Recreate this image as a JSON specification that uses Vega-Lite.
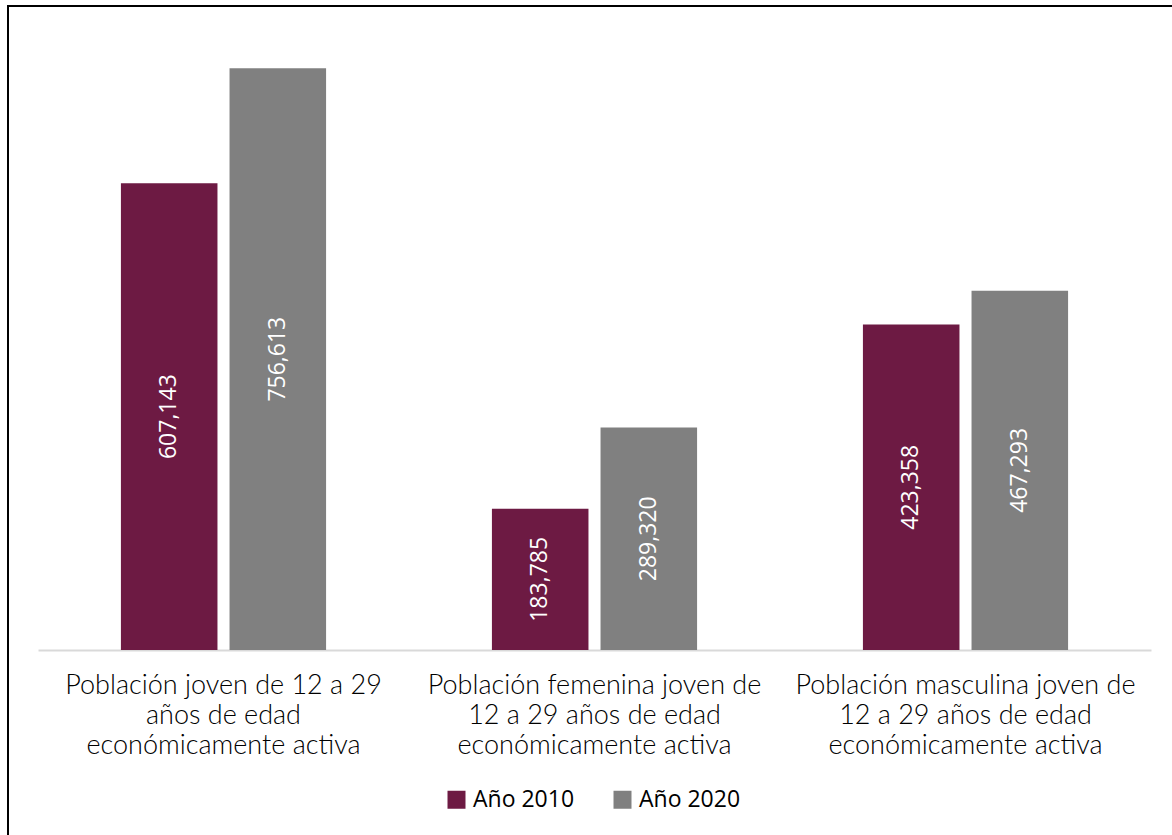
{
  "$schema": "https://vega.github.io/schema/vega-lite/v6.json",
  "autosize": "none",
  "padding": {"left": 8, "top": 6, "right": 0, "bottom": 0},
  "width": 1180,
  "height": 840,
  "background": "white",
  "config": {
    "view": {"stroke": "black", "strokeWidth": 2},
    "font": "Lato"
  },
  "data": {
    "values": [
      {"categoria": "Población joven", "serie": "Año 2010", "valor": 607143},
      {"categoria": "Población joven", "serie": "Año 2020", "valor": 756613},
      {"categoria": "Población femenina", "serie": "Año 2010", "valor": 183785},
      {"categoria": "Población femenina", "serie": "Año 2020", "valor": 289320},
      {"categoria": "Población masculina", "serie": "Año 2010", "valor": 423358},
      {"categoria": "Población masculina", "serie": "Año 2020", "valor": 467293}
    ]
  },
  "transform": [{"calculate": "datum.valor / 2", "as": "mitad"}],
  "encoding": {
    "x": {
      "field": "categoria",
      "type": "nominal",
      "sort": null,
      "scale": {"range": [30, 1143], "paddingInner": 0.447, "paddingOuter": 0.2235},
      "axis": {
        "title": null,
        "orient": "bottom",
        "offset": -196,
        "ticks": false,
        "domainColor": "#d9d9d9",
        "domainWidth": 2,
        "labelAngle": 0,
        "labelLimit": 0,
        "labelFont": "Lato",
        "labelFontWeight": 300,
        "labelFontSize": 27,
        "labelColor": "#000000",
        "labelLineHeight": 30,
        "labelPadding": 22,
        "labelExpr": "datum.value == 'Población joven' ? ['Población joven de 12 a 29', 'años de edad', 'económicamente activa'] : datum.value == 'Población femenina' ? ['Población femenina joven de', '12 a 29 años de edad', 'económicamente activa'] : ['Población masculina joven de', '12 a 29 años de edad', 'económicamente activa']"
      }
    },
    "xOffset": {
      "field": "serie",
      "type": "nominal",
      "scale": {"paddingInner": 0.111, "paddingOuter": 0}
    },
    "y": {
      "field": "valor",
      "type": "quantitative",
      "scale": {"domain": [0, 800000], "range": [644, 29]},
      "axis": null
    }
  },
  "layer": [
    {
      "mark": {"type": "bar"},
      "encoding": {
        "color": {
          "field": "serie",
          "type": "nominal",
          "scale": {"range": ["#6d1a43", "#808080"]},
          "legend": {
            "title": null,
            "orient": "none",
            "legendX": 437,
            "legendY": 782,
            "direction": "horizontal",
            "symbolType": "square",
            "symbolSize": 324,
            "symbolStrokeWidth": 0,
            "labelFont": "Open Sans",
            "labelFontSize": 23,
            "labelColor": "#000000",
            "columnPadding": 36,
            "labelOffset": 5
          }
        }
      }
    },
    {
      "mark": {"type": "text", "angle": 270, "align": "center", "baseline": "middle", "color": "white", "font": "Open Sans", "fontSize": 23},
      "encoding": {
        "y": {"field": "mitad", "type": "quantitative"},
        "text": {"field": "valor", "type": "quantitative", "format": ","}
      }
    }
  ]
}
